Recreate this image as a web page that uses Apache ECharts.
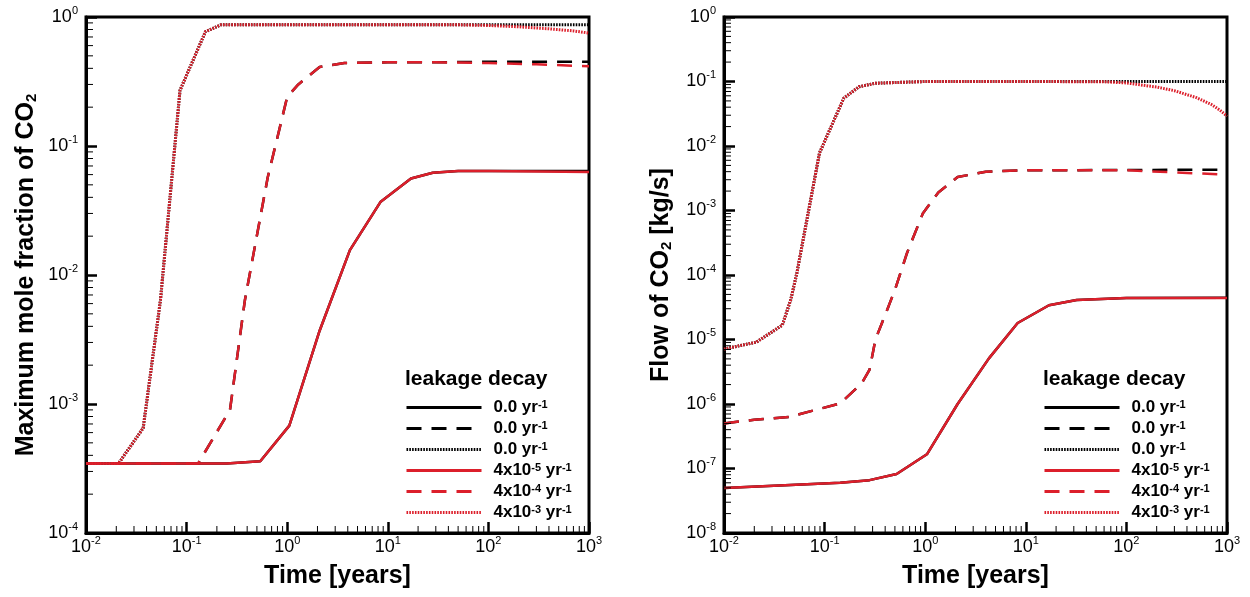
<!DOCTYPE html>
<html>
<head>
<meta charset="utf-8">
<script src="https://cdn.jsdelivr.net/npm/echarts@6/dist/echarts.min.js"></script>
<style>
html,body{margin:0;padding:0;background:#fff;}
#chart{width:1250px;height:597px;}
</style>
</head>
<body>
<div id="chart"></div>
<script>
// ---------------- DATA ----------------
// Tick exponents (labels are 10^e)
const xTickExps = [-2, -1, 0, 1, 2, 3];
const leftYTickExps = [-4, -3, -2, -1, 0];
const rightYTickExps = [-8, -7, -6, -5, -4, -3, -2, -1, 0];

// Legend entries
const legendNames = ['0.0 yr-1 (solid)', '0.0 yr-1 (dashed)', '0.0 yr-1 (dotted)', '4x10-5 yr-1', '4x10-4 yr-1', '4x10-3 yr-1'];
const legendRates = ['0.0', '0.0', '0.0', '4x10', '4x10', '4x10'];
const legendRateExps = ['', '', '', '-5', '-4', '-3'];

// Left panel: maximum mole fraction of CO2
const moleSolidT      = [0.01, 0.25, 0.54, 1.05, 2.1, 4.2, 8.5, 17, 28, 50, 100, 1000];
const moleSolidRed    = [3.45e-4, 3.45e-4, 3.6e-4, 6.8e-4, 3.7e-3, 0.0156, 0.037, 0.056, 0.062, 0.064, 0.064, 0.063];
const moleSolidBlack  = [3.45e-4, 3.45e-4, 3.6e-4, 6.8e-4, 3.7e-3, 0.0156, 0.037, 0.056, 0.062, 0.064, 0.064, 0.064];

const moleDashT       = [0.01, 0.13, 0.27, 0.38, 0.64, 1.0, 1.29, 2.1, 3.7, 10, 30, 100, 300, 1000];
const moleDashRed     = [3.45e-4, 3.45e-4, 9e-4, 6.4e-3, 0.057, 0.24, 0.3, 0.41, 0.44, 0.445, 0.445, 0.44, 0.43, 0.415];
const moleDashBlack   = [3.45e-4, 3.45e-4, 9e-4, 6.4e-3, 0.057, 0.24, 0.3, 0.41, 0.44, 0.445, 0.445, 0.45, 0.45, 0.45];

const moleDotT        = [0.01, 0.021, 0.037, 0.055, 0.086, 0.154, 0.22, 0.5, 1, 10, 50, 100, 200, 400, 700, 1000];
const moleDotRed      = [3.45e-4, 3.45e-4, 6.5e-4, 6.4e-3, 0.27, 0.77, 0.87, 0.872, 0.872, 0.872, 0.87, 0.86, 0.84, 0.81, 0.78, 0.75];
const moleDotBlack    = [3.45e-4, 3.45e-4, 6.5e-4, 6.4e-3, 0.27, 0.77, 0.87, 0.872, 0.872, 0.872, 0.872, 0.872, 0.872, 0.872, 0.872, 0.872];

// Right panel: flow of CO2 [kg/s]
const flowSolidT      = [0.01, 0.143, 0.28, 0.52, 1.04, 2.1, 4.3, 8.3, 17, 32, 100, 1000];
const flowSolidRed    = [5e-8, 6e-8, 6.6e-8, 8.2e-8, 1.66e-7, 1e-6, 5.1e-6, 1.8e-5, 3.4e-5, 4.1e-5, 4.4e-5, 4.4e-5];
const flowSolidBlack  = [5e-8, 6e-8, 6.6e-8, 8.2e-8, 1.66e-7, 1e-6, 5.1e-6, 1.8e-5, 3.4e-5, 4.1e-5, 4.4e-5, 4.45e-5];

const flowDashT       = [0.01, 0.02, 0.044, 0.143, 0.234, 0.28, 0.32, 0.43, 0.5, 0.66, 0.95, 1.35, 2.1, 4, 10, 100, 1000];
const flowDashRed     = [5e-7, 5.7e-7, 6.3e-7, 1.02e-6, 2.1e-6, 3.4e-6, 1e-5, 3.2e-5, 5.9e-5, 2.2e-4, 9.1e-4, 1.9e-3, 3.3e-3, 4e-3, 4.2e-3, 4.2e-3, 3.6e-3];
const flowDashBlack   = [5e-7, 5.7e-7, 6.3e-7, 1.02e-6, 2.1e-6, 3.4e-6, 1e-5, 3.2e-5, 5.9e-5, 2.2e-4, 9.1e-4, 1.9e-3, 3.3e-3, 4e-3, 4.2e-3, 4.25e-3, 4.3e-3];

const flowDotT        = [0.01, 0.021, 0.038, 0.046, 0.053, 0.089, 0.155, 0.22, 0.32, 1, 10, 60, 100, 200, 300, 500, 700, 850, 1000];
const flowDotRed      = [7.1e-6, 9.1e-6, 1.67e-5, 4.1e-5, 1.07e-4, 7.8e-3, 0.055, 0.083, 0.094, 0.1, 0.1, 0.099, 0.095, 0.082, 0.072, 0.056, 0.044, 0.036, 0.029];
const flowDotBlack    = [7.1e-6, 9.1e-6, 1.67e-5, 4.1e-5, 1.07e-4, 7.8e-3, 0.055, 0.083, 0.094, 0.1, 0.1, 0.1, 0.1, 0.1, 0.1, 0.1, 0.1, 0.1, 0.1];

// ---------------- STYLE / BUILD ----------------
const FONT = '"Liberation Sans", Arial, Helvetica, sans-serif';
const RED = '#dc1f2b';
const BLACK = '#000000';
const DASH = [15, 10];
const DOT = [1.6, 1.2];

function zip(t, v) { return t.map((x, i) => [x, v[i]]); }

function supLabel(value) {
  const e = Math.round(Math.log10(value));
  return '{b|10}{s|' + e + '}';
}
const tickRich = {
  b: { fontSize: 18, fontFamily: FONT, color: '#000', lineHeight: 24 },
  s: { fontSize: 11, fontFamily: FONT, color: '#000', lineHeight: 11, verticalAlign: 'top' }
};

function xAxisDef(gi) {
  return {
    type: 'log', logBase: 10, gridIndex: gi, min: 0.01, max: 1000, interval: 1,
    name: 'Time [years]', nameLocation: 'middle', nameGap: 31,
    nameTextStyle: { fontSize: 25, fontWeight: 'bold', fontFamily: FONT, color: '#000' },
    axisLine: { show: true, lineStyle: { color: '#000', width: 3 } },
    axisTick: { show: true, inside: true, length: 11, lineStyle: { color: '#000', width: 2.5 } },
    minorTick: { show: false },
    splitLine: { show: false },
    axisLabel: { margin: 2, formatter: supLabel, rich: tickRich, color: '#000', showMinLabel: true, showMaxLabel: true }
  };
}
function yAxisDef(gi, min, nameRich, gap) {
  return {
    type: 'log', logBase: 10, gridIndex: gi, min: min, max: 1, interval: 1,
    name: nameRich, nameLocation: 'middle', nameGap: gap, nameRotate: 90,
    nameTextStyle: {
      fontSize: 25, fontWeight: 'bold', fontFamily: FONT, color: '#000',
      rich: {
        sub: { fontSize: 15, fontWeight: 'bold', fontFamily: FONT, color: '#000', verticalAlign: 'bottom', lineHeight: 15 }
      }
    },
    axisLine: { show: true, lineStyle: { color: '#000', width: 3 } },
    axisTick: { show: true, inside: true, length: 11, lineStyle: { color: '#000', width: 2.5 } },
    minorTick: { show: false },
    splitLine: { show: false },
    axisLabel: { margin: 8, formatter: supLabel, rich: tickRich, color: '#000', showMinLabel: true, showMaxLabel: true }
  };
}

function lineSeries(name, gi, t, v, color, type, width) {
  return {
    type: 'line', name: name, xAxisIndex: gi, yAxisIndex: gi,
    data: zip(t, v), showSymbol: false, symbol: 'none', smooth: false,
    lineStyle: { color: color, width: width, type: type },
    itemStyle: { color: color },
    silent: true, animation: false, z: color === RED ? 3 : 2
  };
}

// minor ticks (2..9 per decade) drawn through the axes' scales
function minorValues(loExp, hiExp) {
  const out = [];
  for (let e = loExp; e < hiExp; e++) for (let m = 2; m <= 9; m++) out.push(m * Math.pow(10, e));
  return out;
}
function minorTickSeries(gi, axis, values, other) {
  return {
    type: 'custom', xAxisIndex: gi, yAxisIndex: gi, silent: true, animation: false, z: 4, clip: false,
    data: values.map(v => axis === 'x' ? [v, other] : [other, v]),
    renderItem: function (params, api) {
      const p = api.coord([api.value(0), api.value(1)]);
      const shape = axis === 'x'
        ? { x1: p[0], y1: p[1], x2: p[0], y2: p[1] - 7 }
        : { x1: p[0], y1: p[1], x2: p[0] + 7, y2: p[1] };
      return { type: 'line', shape: shape, style: { stroke: '#000', lineWidth: 1 } };
    }
  };
}

function legendFormatter(name) {
  const i = legendNames.indexOf(name);
  let s = '{t|' + legendRates[i] + '}';
  if (legendRateExps[i]) s += '{s|' + legendRateExps[i] + '}';
  s += '{t| yr}{s|-1}';
  return s;
}
function legendDef(left) {
  return {
    orient: 'vertical', left: left, top: 399, padding: 0,
    itemWidth: 75, itemHeight: 16, itemGap: 4,
    data: legendNames, selectedMode: false,
    itemStyle: { color: 'rgba(0,0,0,0)', borderWidth: 0, opacity: 0 },
    lineStyle: { width: 3 },
    formatter: legendFormatter,
    textStyle: {
      padding: [0, 0, 0, 7],
      rich: {
        t: { fontSize: 17, fontWeight: 'bold', fontFamily: FONT, color: '#000', lineHeight: 16 },
        s: { fontSize: 11, fontWeight: 'bold', fontFamily: FONT, color: '#000', lineHeight: 10, verticalAlign: 'top' }
      }
    }
  };
}

const series = [
  // left panel
  lineSeries(legendNames[0], 0, moleSolidT, moleSolidBlack, BLACK, 'solid', 2.5),
  lineSeries(legendNames[1], 0, moleDashT, moleDashBlack, BLACK, DASH, 2.5),
  lineSeries(legendNames[2], 0, moleDotT, moleDotBlack, BLACK, DOT, 3),
  lineSeries(legendNames[3], 0, moleSolidT, moleSolidRed, RED, 'solid', 2.5),
  lineSeries(legendNames[4], 0, moleDashT, moleDashRed, RED, DASH, 2.5),
  lineSeries(legendNames[5], 0, moleDotT, moleDotRed, RED, DOT, 3),
  // right panel
  lineSeries(legendNames[0], 1, flowSolidT, flowSolidBlack, BLACK, 'solid', 2.5),
  lineSeries(legendNames[1], 1, flowDashT, flowDashBlack, BLACK, DASH, 2.5),
  lineSeries(legendNames[2], 1, flowDotT, flowDotBlack, BLACK, DOT, 3),
  lineSeries(legendNames[3], 1, flowSolidT, flowSolidRed, RED, 'solid', 2.5),
  lineSeries(legendNames[4], 1, flowDashT, flowDashRed, RED, DASH, 2.5),
  lineSeries(legendNames[5], 1, flowDotT, flowDotRed, RED, DOT, 3),
  // minor ticks
  minorTickSeries(0, 'x', minorValues(-2, 3), 1e-4),
  minorTickSeries(0, 'y', minorValues(-4, 0), 0.01),
  minorTickSeries(1, 'x', minorValues(-2, 3), 1e-8),
  minorTickSeries(1, 'y', minorValues(-8, 0), 0.01)
];

const option = {
  animation: false,
  backgroundColor: '#fff',
  textStyle: { fontFamily: FONT },
  grid: [
    { left: 86, right: 661, top: 17, bottom: 64, show: true, borderColor: '#000', borderWidth: 3, backgroundColor: 'transparent' },
    { left: 724, right: 23, top: 17, bottom: 64, show: true, borderColor: '#000', borderWidth: 3, backgroundColor: 'transparent' }
  ],
  title: [
    { text: 'leakage decay', left: 405, top: 369, padding: 0, textStyle: { fontSize: 21, fontWeight: 'bold', fontFamily: FONT, color: '#000' } },
    { text: 'leakage decay', left: 1043, top: 369, padding: 0, textStyle: { fontSize: 21, fontWeight: 'bold', fontFamily: FONT, color: '#000' } }
  ],
  legend: [legendDef(405), legendDef(1043)],
  xAxis: [xAxisDef(0), xAxisDef(1)],
  yAxis: [
    yAxisDef(0, 1e-4, 'Maximum mole fraction of CO{sub|2}', 47),
    yAxisDef(1, 1e-8, 'Flow of CO{sub|2} [kg/s]', 50)
  ],
  series: series
};

const chart = echarts.init(document.getElementById('chart'), null, { renderer: 'canvas' });
chart.setOption(option);
</script>
</body>
</html>
